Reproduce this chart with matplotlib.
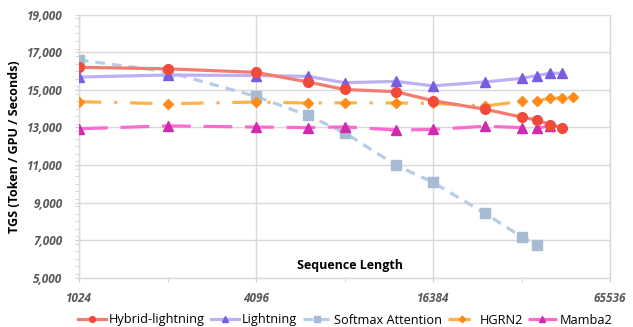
import matplotlib
matplotlib.use("Agg")
import matplotlib.pyplot as plt
from matplotlib.ticker import FixedLocator, FuncFormatter, NullFormatter, MultipleLocator

plt.rcParams['font.family'] = ['Open Sans', 'DejaVu Sans']

# sequence lengths
x_hybrid = [1024, 2048, 4096, 6144, 8192, 12288, 16384, 24576, 32768, 36864, 40960, 45056]
y_hybrid = [16200, 16120, 15930, 15420, 15020, 14900, 14420, 13970, 13550, 13400, 13150, 12980]

x_lightning = [1024, 2048, 4096, 6144, 8192, 12288, 16384, 24576, 32768, 36864, 40960, 45056]
y_lightning = [15680, 15790, 15760, 15720, 15380, 15450, 15210, 15420, 15610, 15760, 15880, 15880]

x_softmax = [1024, 2048, 4096, 6144, 8192, 12288, 16384, 24576, 32768, 36864]
y_softmax = [16590, 15960, 14650, 13640, 12720, 10980, 10080, 8430, 7180, 6730]

x_hgrn2 = [1024, 2048, 4096, 6144, 8192, 12288, 16384, 24576, 32768, 36864, 40960, 45056, 49152]
y_hgrn2 = [14370, 14260, 14350, 14300, 14310, 14300, 14280, 14140, 14390, 14420, 14550, 14560, 14620]

x_mamba2 = [1024, 2048, 4096, 6144, 8192, 12288, 16384, 24576, 32768, 36864, 40960]
y_mamba2 = [12930, 13080, 13020, 12990, 13030, 12860, 12890, 13060, 12990, 12950, 13090]

series_names = ["Hybrid-lightning", "Lightning", "Softmax Attention", "HGRN2", "Mamba2"]
x_ticks = [1024, 4096, 16384, 65536]
x_minor = [2048, 8192, 32768]
y_ticks = [5000, 7000, 9000, 11000, 13000, 15000, 17000, 19000]

fig = plt.figure(figsize=(6.33, 3.27), dpi=100)
ax = fig.add_axes([79/633, 1-277.7/327, (610-79)/633, (277.7-14.7)/327])

lw = 2.3
ax.plot(x_hybrid, y_hybrid, color='#F57A70', lw=lw, ls='-', marker='o', ms=7,
        mfc='#F04B3A', mec='#F04B3A', label=series_names[0], zorder=5)
ax.plot(x_lightning, y_lightning, color='#BFB0F5', lw=lw, ls='-', marker='^', ms=7.5,
        mfc='#7A5CE0', mec='#7A5CE0', label=series_names[1], zorder=4)
ax.plot(x_softmax, y_softmax, color='#B7CDE6', lw=lw, ls=(0, (3, 2.2)), marker='s', ms=6.5,
        mfc='#A7BBD2', mec='#A7BBD2', label=series_names[2], zorder=3)
ax.plot(x_hgrn2, y_hgrn2, color='#FFB347', lw=lw, ls=(0, (7, 4, 1, 4)), marker='D', ms=5.5,
        mfc='#FF8C1A', mec='#FF8C1A', label=series_names[3], zorder=4)
ax.plot(x_mamba2, y_mamba2, color='#FF6AD0', lw=lw, ls=(0, (9, 4)), marker='^', ms=7.5,
        mfc='#D02AAE', mec='#D02AAE', label=series_names[4], zorder=4)

ax.set_xscale('log', base=2)
ax.set_xlim(1024, 65536)
ax.set_ylim(5000, 19000)
ax.xaxis.set_major_locator(FixedLocator(x_ticks))
ax.xaxis.set_major_formatter(FuncFormatter(lambda v, p: f"{int(round(v))}"))
ax.xaxis.set_minor_locator(FixedLocator(x_minor))
ax.xaxis.set_minor_formatter(NullFormatter())
ax.yaxis.set_major_locator(FixedLocator(y_ticks))
ax.yaxis.set_major_formatter(FuncFormatter(lambda v, p: f"{int(v):,}"))
ax.yaxis.set_minor_locator(MultipleLocator(400))

ax.grid(True, which='major', color='#D9D9D9', lw=1.0)
ax.set_axisbelow(True)
for s in ['left', 'bottom', 'right']:
    ax.spines[s].set_color('#D9D9D9')
    ax.spines[s].set_linewidth(1.0)
ax.spines['top'].set_visible(False)

ax.tick_params(axis='both', which='major', length=3, color='#D0D0D0', labelcolor='#595959',
               labelsize=8.5)
ax.tick_params(axis='y', which='major', pad=9)
ax.tick_params(axis='x', which='major', pad=7)
ax.tick_params(axis='both', which='minor', length=3, color='#D0D0D0')
for lab in ax.get_xticklabels() + ax.get_yticklabels():
    lab.set_fontstyle('italic')
    lab.set_fontweight('bold')

ax.set_ylabel("TGS (Token / GPU / Seconds)", fontsize=9, fontweight='bold', color='black', labelpad=4)
ax.text(0.51, 0.045, "Sequence Length", transform=ax.transAxes, ha='center', va='center',
        fontsize=9, fontweight='bold', color='black')

leg = fig.legend(loc='center', bbox_to_anchor=(345/633, 1-320/327), ncol=5, frameon=False,
                 fontsize=9.2, handlelength=2.2, handletextpad=0.25, columnspacing=0.45,
                 markerscale=0.6, borderaxespad=0)

fig.savefig("out.png", dpi=100)
